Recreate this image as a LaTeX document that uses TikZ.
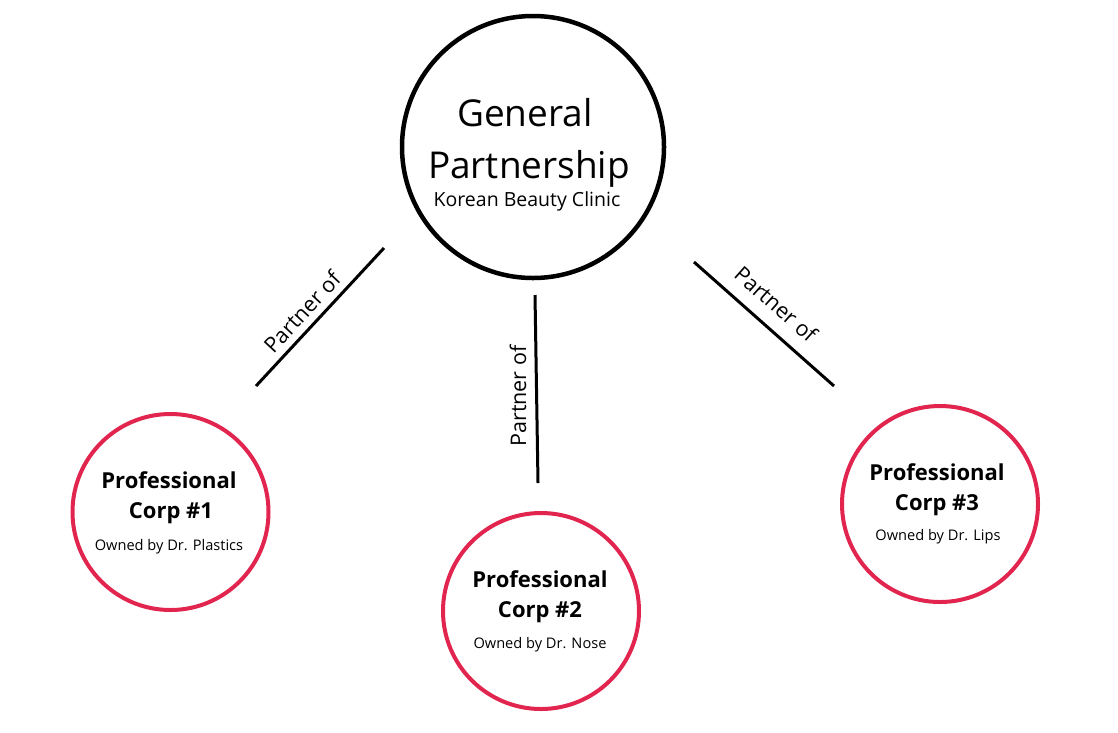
\documentclass[tikz,border=0pt]{standalone}
\usepackage{fontspec}
\setmainfont{Open Sans}
\definecolor{corpred}{RGB}{225,37,79}
\begin{document}
\begin{tikzpicture}[x=1pt,y=-1pt,
  gp/.style={circle,draw=black,line width=4.5pt,minimum size=262pt,inner sep=0pt},
  pc/.style={circle,draw=corpred,line width=4pt,minimum size=196pt,inner sep=0pt},
  big/.style={anchor=base,inner sep=0pt,font=\fontsize{37}{44}\selectfont},
  sub/.style={anchor=base,inner sep=0pt,font=\fontsize{19.5}{23}\selectfont},
  ptitle/.style={anchor=base,inner sep=0pt,font=\fontsize{22}{26}\selectfont\bfseries},
  pown/.style={anchor=base,inner sep=0pt,font=\fontsize{14.6}{17}\selectfont},
  link/.style={line width=3pt,draw=black},
  lab/.style={inner sep=0pt,font=\fontsize{21.5}{26}\selectfont}]
\useasboundingbox[fill=white] (0,0) rectangle (1118,732);
% general partnership
\node[gp] (gp) at (533,147) {};
\node[big] (gp1) at (525,126) {General};
\node[big] (gp2) at (529,178) {Partnership};
\node[sub] (gp3) at (527,206) {Korean Beauty Clinic};
% corps
\node[pc] (c1) at (170.5,512) {};
\node[ptitle] (c1a) at (169,488) {Professional};
\node[ptitle] (c1b) at (171,518) {Corp \#1};
\node[pown] (c1c) at (169,550) {Owned by Dr. Plastics};
\node[pc] (c2) at (541,611) {};
\node[ptitle] (c2a) at (540,587) {Professional};
\node[ptitle] (c2b) at (540,617) {Corp \#2};
\node[pown] (c2c) at (540,648) {Owned by Dr. Nose};
\node[pc] (c3) at (940,504) {};
\node[ptitle] (c3a) at (937,480) {Professional};
\node[ptitle] (c3b) at (937,510) {Corp \#3};
\node[pown] (c3c) at (938,540) {Owned by Dr. Lips};
% connectors
\coordinate (l1a) at (384,248);
\coordinate (l1b) at (256,386);
\coordinate (l2a) at (535,295);
\coordinate (l2b) at (538,483);
\coordinate (l3a) at (694,262);
\coordinate (l3b) at (834,386);
\draw[link] (l1a) -- (l1b);
\draw[link] (l2a) -- (l2b);
\draw[link] (l3a) -- (l3b);
\node[lab,rotate=47.2] (t1) at (302,312) {Partner of};
\node[lab,rotate=90] (t2) at (518,396) {Partner of};
\node[lab,rotate=-41.5] (t3) at (776,304) {Partner of};
\end{tikzpicture}
\end{document}
